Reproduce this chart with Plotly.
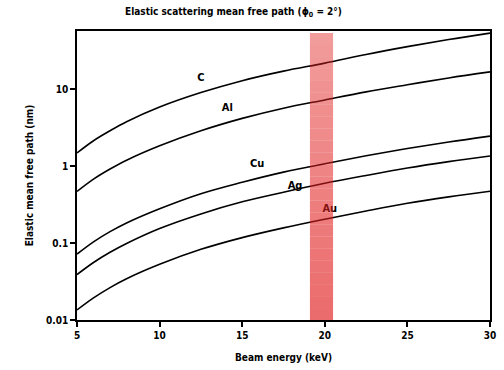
import plotly.graph_objects as go

energy = [5, 6, 7, 8, 10, 12.5, 15, 17.5, 20, 22.5, 25, 27.5, 30]
mfp_C  = [1.49, 2.15, 2.9, 3.8, 5.9, 9.1, 13.0, 17.3, 22.0, 28.5, 36.0, 44.5, 54.0]
mfp_Al = [0.47, 0.68, 0.92, 1.2, 1.85, 2.9, 4.2, 5.7, 7.3, 9.3, 11.5, 14.1, 16.9]
mfp_Cu = [0.072, 0.104, 0.141, 0.183, 0.28, 0.44, 0.62, 0.84, 1.08, 1.37, 1.70, 2.07, 2.47]
mfp_Ag = [0.039, 0.056, 0.076, 0.099, 0.155, 0.24, 0.345, 0.46, 0.60, 0.76, 0.95, 1.15, 1.36]
mfp_Au = [0.0135, 0.0194, 0.0264, 0.0344, 0.053, 0.083, 0.118, 0.158, 0.205, 0.262, 0.330, 0.400, 0.474]

labels = ["C", "Al", "Cu", "Ag", "Au"]
label_x = [12.5, 14.1, 15.9, 18.2, 20.3]
label_y = [14.0, 5.7, 1.06, 0.55, 0.28]

band_x = [19.1, 20.5]
y_ticks = [0.01, 0.1, 1, 10]
y_ticklabels = ["0.01", "0.1", "1", "10"]
x_ticks = [5, 10, 15, 20, 25, 30]

FONT = "Liberation Sans Narrow, Arial Narrow, DejaVu Sans Condensed, sans-serif"

fig = go.Figure()
for ys in [mfp_C, mfp_Al, mfp_Cu, mfp_Ag, mfp_Au]:
    fig.add_trace(go.Scatter(x=energy, y=ys, mode="lines", line=dict(color="black", width=1.6, shape="spline"),
                             showlegend=False, hoverinfo="skip"))

fig.add_trace(go.Scatter(x=label_x, y=label_y, mode="text", text=labels, hoverinfo="skip",
                         textfont=dict(family=FONT, size=11, color="black", weight="bold"), showlegend=False))

# gradient band (drawn above lines, semi-transparent)
n = 24
top = 0.993
for i in range(n):
    y0 = top * i / n
    y1 = top * (i + 1) / n
    t = (i + 0.5) / n  # 0 bottom, 1 top
    a = 0.66 - 0.22 * t
    fig.add_shape(type="rect", xref="x", yref="y domain", x0=band_x[0], x1=band_x[1], y0=y0, y1=y1,
                  fillcolor=f"rgba(225,30,30,{a:.3f})", line=dict(width=0), layer="above")

fig.update_layout(
    width=504, height=370,
    margin=dict(l=77, r=14, t=31, b=50),
    paper_bgcolor="white", plot_bgcolor="white",
    font=dict(family=FONT, color="black"),
    xaxis=dict(range=[5, 30], tickvals=x_ticks, ticks="outside", ticklen=5, tickwidth=1.5, tickcolor="black",
               showline=True, linecolor="black", linewidth=1.6, mirror=True, showgrid=False, zeroline=False,
               automargin=False,
               tickfont=dict(family=FONT, size=10, color="black", weight="bold"),
               title=dict(text="Beam energy (keV)", font=dict(family=FONT, size=10, weight="bold"), standoff=14)),
    yaxis=dict(type="log", range=[-2, 1.76], tickvals=y_ticks, ticktext=y_ticklabels, ticks="outside", ticklen=5,
               tickwidth=1.5, tickcolor="black", automargin=False,
               showline=True, linecolor="black", linewidth=1.6, mirror=True, showgrid=False, zeroline=False,
               tickfont=dict(family=FONT, size=10, color="black", weight="bold"),
               title=dict(text="Elastic mean free path (nm)", font=dict(family=FONT, size=10, weight="bold"), standoff=10)),
    annotations=[dict(text="Elastic scattering mean free path (\u03d5<sub>0</sub> = 2\u00b0)", xref="paper", yref="paper",
                      x=(233 - 77) / 413, y=1 + (31 - 12) / 289, xanchor="center", yanchor="middle", showarrow=False,
                      font=dict(family=FONT, size=10, color="black", weight="bold"))],
)

fig.write_html("out.html", config={"displayModeBar": False},
               post_script="document.body.style.margin='0';")
